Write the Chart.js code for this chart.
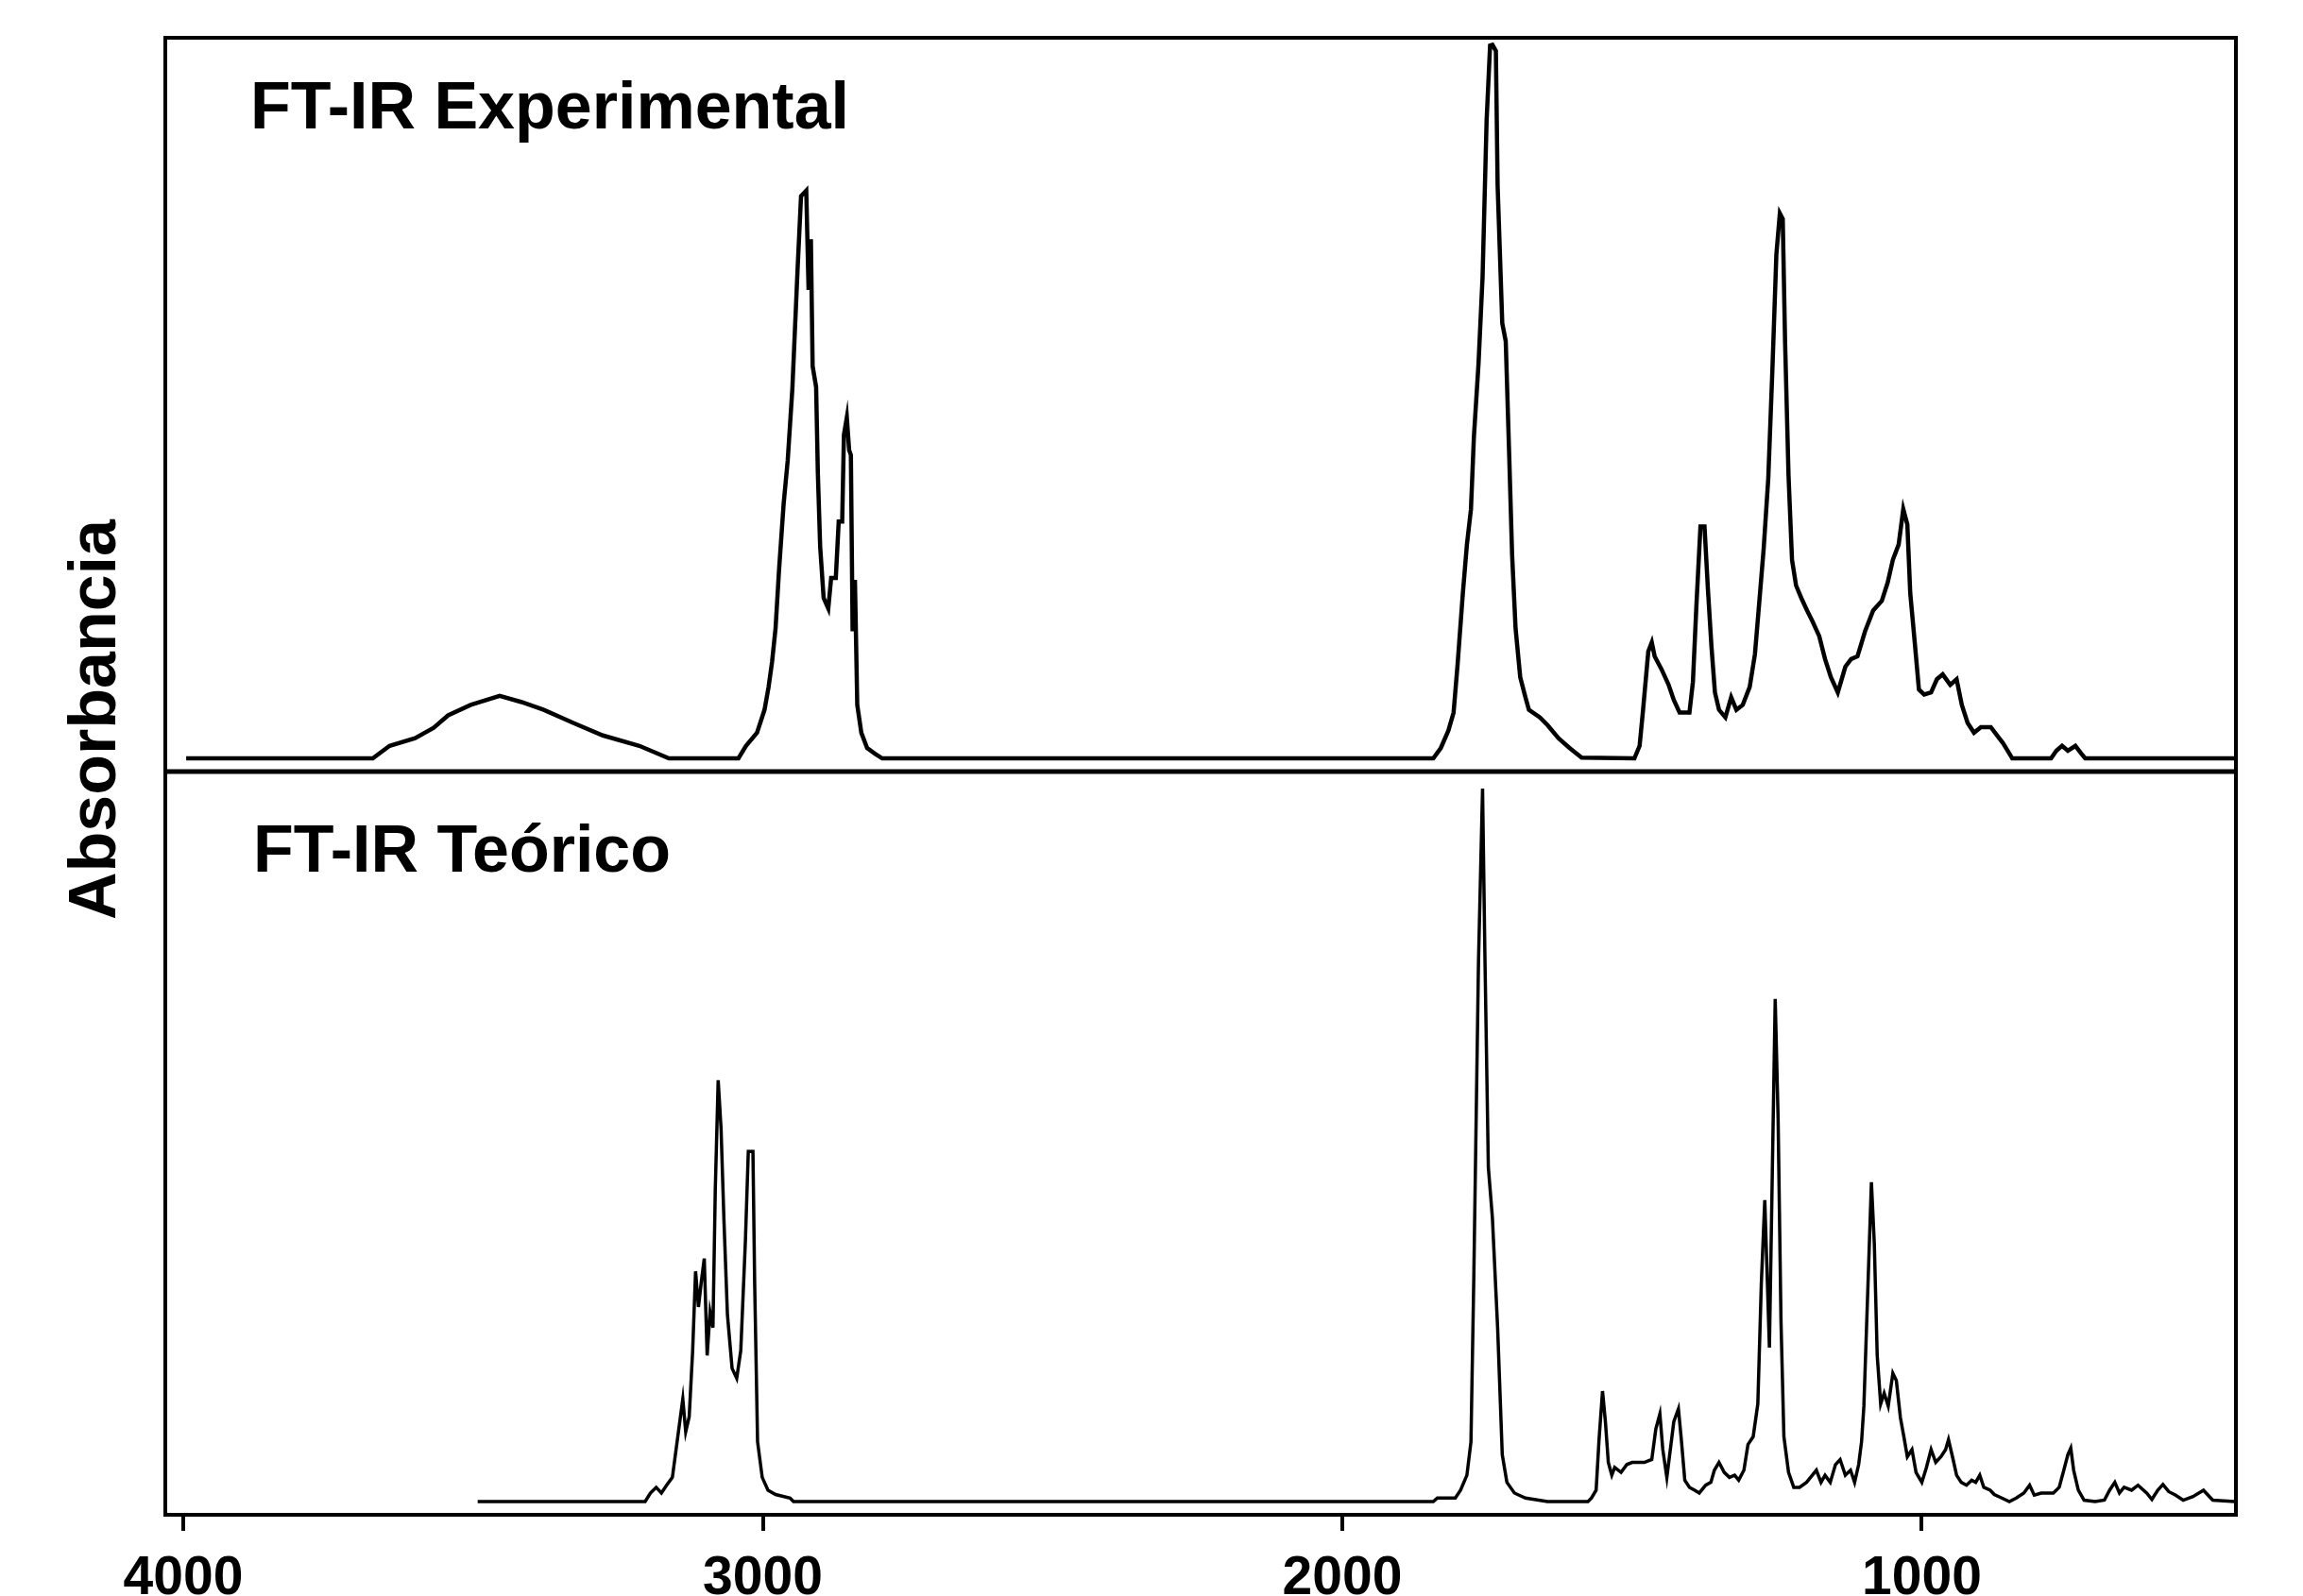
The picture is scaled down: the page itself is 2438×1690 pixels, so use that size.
<!DOCTYPE html>
<html>
<head>
<meta charset="utf-8">
<title>FT-IR</title>
<script src="https://cdn.jsdelivr.net/npm/chart.js@4/dist/chart.umd.min.js"></script>
<style>
  html, body { margin: 0; padding: 0; background: #fff; }
  #wrap { width: 2438px; height: 1690px; }
</style>
</head>
<body>
<div id="wrap"><canvas id="irChart" width="2438" height="1690"></canvas></div>
<script>
// ===== FT-IR data (wavenumber in cm-1, absorbance in arbitrary units) =====

const xTicks = [4000, 3000, 2000, 1000];

const expWavenumber = [
  3995, 3673, 3644, 3600, 3568, 3543, 3504, 3454, 3416, 3378, 3327, 3276, 3213, 3162,
  3042, 3029, 3010, 2997, 2990, 2984, 2978, 2972, 2964, 2957, 2949, 2940, 2934, 2925,
  2921, 2917, 2914, 2908, 2905, 2901, 2895, 2887, 2882, 2874, 2869, 2863, 2860, 2855,
  2851, 2848, 2845, 2841, 2837, 2830, 2820, 2807, 2794,
  1843, 1830, 1817, 1808, 1801, 1792, 1785, 1778, 1773, 1765, 1758, 1751, 1745, 1741,
  1735, 1732, 1724, 1718, 1712, 1707, 1701, 1693, 1684, 1678, 1659, 1646, 1627, 1608, 1587,
  1496, 1487, 1481, 1472, 1466, 1461, 1449, 1437, 1428, 1418, 1401, 1395, 1389, 1382,
  1375, 1369, 1363, 1357, 1350, 1339, 1329, 1320, 1309, 1297, 1288, 1281, 1273, 1265,
  1258, 1251, 1245, 1240, 1236, 1230, 1224, 1217, 1208, 1198, 1189, 1177, 1167, 1157,
  1145, 1132, 1122, 1111, 1098, 1084, 1069, 1059, 1050, 1040, 1032, 1025, 1020, 1012,
  1005, 996, 984, 974, 964, 951, 940, 931, 921, 910, 898, 881, 870, 860, 849, 844,
  777, 768, 758, 748, 735, 725, 718, 460
];
const expAbsorbance = [
  0, 0, 1.8, 2.9, 4.4, 6.2, 7.7, 9.0, 8.1, 7.0, 5.1, 3.3, 1.8, 0,
  0, 1.8, 3.7, 7.0, 10.3, 13.9, 18.7, 27.1, 36.7, 42.9, 53.2, 70.4, 81.0, 81.8,
  67.5, 74.8, 56.5, 53.5, 41.1, 30.5, 23.1, 21.6, 26.0, 26.0, 34.1, 34.1, 46.6, 49.1,
  44.4, 43.7, 18.3, 25.7, 7.7, 3.7, 1.5, 0.7, 0,
  0, 1.5, 4.0, 6.6, 13.6, 23.8, 30.8, 35.9, 46.2, 56.8, 69.3, 91.9, 102.7, 102.8,
  101.9, 82.5, 62.7, 60.1, 43.6, 29.3, 18.7, 11.7, 8.8, 7.0, 5.9, 4.8, 2.9, 1.5, 0.1,
  0, 1.8, 7.0, 15.4, 16.7, 14.7, 12.8, 10.6, 8.4, 6.6, 6.6, 11.0, 22.0, 33.4,
  33.4, 24.2, 16.1, 9.5, 7.0, 5.9, 8.8, 7.0, 7.7, 10.3, 15.0, 22.0, 30.1, 40.3,
  55.7, 72.6, 78.5, 77.7, 60.1, 40.7, 28.6, 24.9, 23.1, 21.3, 19.8, 17.6, 14.3, 11.7,
  9.5, 13.2, 14.3, 14.7, 18.3, 21.3, 22.7, 25.3, 28.6, 30.8, 35.9, 33.7, 23.8, 16.5,
  9.9, 9.2, 9.5, 11.4, 12.1, 10.6, 11.4, 7.7, 5.1, 3.7, 4.5, 4.5, 3.3, 2.2, 0.7, 0,
  0, 1.1, 1.8, 1.1, 1.8, 0.7, 0, 0
];

const teoWavenumber = [
  3492, 3203, 3194, 3184, 3175, 3166, 3156, 3147, 3138, 3133, 3127, 3121, 3116, 3111,
  3106, 3101, 3096, 3091, 3086, 3082, 3077, 3072, 3067, 3061, 3053, 3045, 3038, 3030,
  3025, 3017, 3014, 3009, 3001, 2991, 2978, 2953, 2947,
  1843, 1836, 1805, 1796, 1785, 1778, 1773, 1765, 1758, 1754, 1748, 1741, 1732, 1724,
  1716, 1703, 1684, 1646, 1576, 1570, 1562, 1557, 1551, 1546, 1541, 1535, 1530, 1519,
  1509, 1500, 1479, 1466, 1459, 1452, 1447, 1440, 1434, 1428, 1420, 1415, 1409, 1401,
  1392, 1384, 1373, 1364, 1358, 1350, 1341, 1332, 1323, 1316, 1307, 1300, 1291, 1283,
  1277, 1271, 1263, 1258, 1253, 1248, 1243, 1238, 1230, 1221, 1211, 1199, 1189, 1182,
  1174, 1167, 1158, 1149, 1141, 1132, 1123, 1116, 1109, 1104, 1100, 1093, 1087, 1082,
  1077, 1071, 1065, 1058, 1050, 1044, 1037, 1031, 1025, 1017, 1010, 1000, 992, 984,
  976, 967, 959, 954, 946, 940, 932, 923, 914, 907, 900, 893, 882, 875, 862, 849,
  837, 824, 814, 806, 794, 773, 763, 755, 748, 743, 738, 730, 720, 701, 685, 676,
  667, 659, 651, 638, 627, 612, 603, 593, 584, 574, 562, 549, 532, 514, 498, 460
];
const teoAbsorbance = [
  0, 0, 1.2, 2.0, 1.2, 2.3, 3.4, 8.9, 14.4, 9.8, 11.9, 21.2, 32.3, 27.3,
  30.9, 34.1, 20.5, 26.6, 24.4, 43.7, 59.1, 52.3, 39.4, 26.2, 18.7, 17.3, 21.2, 36.6,
  49.1, 49.1, 30.5, 8.4, 3.4, 1.6, 1.0, 0.5, 0,
  0, 0.5, 0.5, 1.6, 3.7, 8.4, 31.9, 75.8, 100, 76.9, 46.9, 39.8, 24.4, 6.6,
  2.7, 1.2, 0.5, 0, 0, 0.5, 1.6, 8.7, 15.5, 11.2, 5.5, 3.7, 4.8, 4.1,
  5.2, 5.5, 5.5, 5.9, 10.2, 12.3, 7.3, 3.4, 7.3, 11.2, 13.0, 8.7, 3.0, 2.0,
  1.6, 1.2, 2.3, 2.7, 4.4, 5.5, 4.1, 3.4, 3.7, 3.0, 4.4, 8.0, 9.1, 13.7,
  30.5, 42.3, 21.6, 46.2, 70.5, 53.7, 25.2, 9.1, 4.1, 2.0, 2.0, 2.7, 3.7, 4.4,
  2.7, 3.7, 2.7, 5.2, 5.9, 3.7, 4.4, 2.7, 5.2, 8.4, 13.4, 30.2, 44.8, 36.2,
  20.5, 13.7, 15.2, 13.4, 18.0, 17.0, 11.8, 9.1, 6.3, 7.3, 4.1, 2.7, 4.8, 7.3,
  5.5, 6.3, 7.3, 8.7, 5.9, 3.7, 2.7, 2.3, 3.0, 2.7, 3.7, 2.0, 1.6, 1.0, 0.5, 0,
  0.5, 1.2, 2.3, 0.9, 1.2, 1.2, 2.0, 4.4, 6.6, 7.5, 4.4, 1.6, 0.2, 0, 0.2, 1.6,
  2.7, 1.2, 2.0, 1.6, 2.3, 1.2, 0.3, 1.6, 2.4, 1.4, 0.9, 0.2, 0.7, 1.6, 0.2, 0
];

const FONT = "'Liberation Sans', Arial, sans-serif";

function toPoints(xs, ys) {
  return xs.map((x, i) => ({ x: x, y: ys[i] }));
}

// frame, divider line and the text labels
const framePlugin = {
  id: 'frame',
  afterDatasetsDraw(chart) {
    const { ctx, chartArea: a, scales } = chart;
    ctx.save();
    ctx.strokeStyle = '#000';
    ctx.lineWidth = 4;
    ctx.strokeRect(a.left, a.top, a.right - a.left, a.bottom - a.top);
    ctx.lineWidth = 5;
    ctx.beginPath();
    ctx.moveTo(a.left, scales.yTop.bottom);
    ctx.lineTo(a.right, scales.yTop.bottom);
    ctx.stroke();

    ctx.fillStyle = '#000';
    ctx.font = 'bold 70px ' + FONT;
    ctx.textAlign = 'left';
    ctx.textBaseline = 'alphabetic';
    ctx.fillText('FT-IR Experimental', a.left + 90, scales.yTop.top + 96);
    ctx.fillText('FT-IR Teórico', a.left + 93, scales.yBottom.top + 106);

    ctx.translate(122, 762);
    ctx.rotate(-Math.PI / 2);
    ctx.textAlign = 'center';
    ctx.font = 'bold 70px ' + FONT;
    ctx.fillText('Absorbancia', 0, 0);
    ctx.restore();
  }
};

const ctx = document.getElementById('irChart');
new Chart(ctx, {
  type: 'line',
  data: {
    datasets: [
      {
        label: 'FT-IR Experimental',
        data: toPoints(expWavenumber, expAbsorbance),
        yAxisID: 'yTop',
        borderColor: '#000',
        borderWidth: 4.5,
        pointRadius: 0,
        tension: 0,
      },
      {
        label: 'FT-IR Teórico',
        data: toPoints(teoWavenumber, teoAbsorbance),
        yAxisID: 'yBottom',
        borderColor: '#000',
        borderWidth: 3.5,
        pointRadius: 0,
        tension: 0,
      }
    ]
  },
  options: {
    responsive: false,
    animation: false,
    parsing: false,
    layout: { padding: { left: 175, top: 40, right: 71, bottom: 0 } },
    plugins: { legend: { display: false }, tooltip: { enabled: false } },
    scales: {
      x: {
        type: 'linear',
        reverse: true,
        min: 458,
        max: 4031,
        afterBuildTicks: s => { s.ticks = xTicks.map(v => ({ value: v })); },
        afterFit: s => { s.height = 86; },
        border: { display: false },
        grid: { drawOnChartArea: false, drawTicks: true, tickLength: 17, color: '#000', lineWidth: 4 },
        ticks: {
          color: '#000', padding: 17, maxRotation: 0, autoSkip: false,
          font: { family: FONT, size: 57, weight: 'bold' },
          callback: v => String(v)
        }
      },
      yBottom: {
        type: 'linear',
        position: 'left',
        stack: 'panels',
        stackWeight: 787,
        min: -1.85,
        max: 102.4,
        display: false
      },
      yTop: {
        type: 'linear',
        position: 'left',
        stack: 'panels',
        stackWeight: 777,
        min: -1.9,
        max: 103.8,
        display: false
      }
    }
  },
  plugins: [framePlugin]
});
</script>
</body>
</html>
